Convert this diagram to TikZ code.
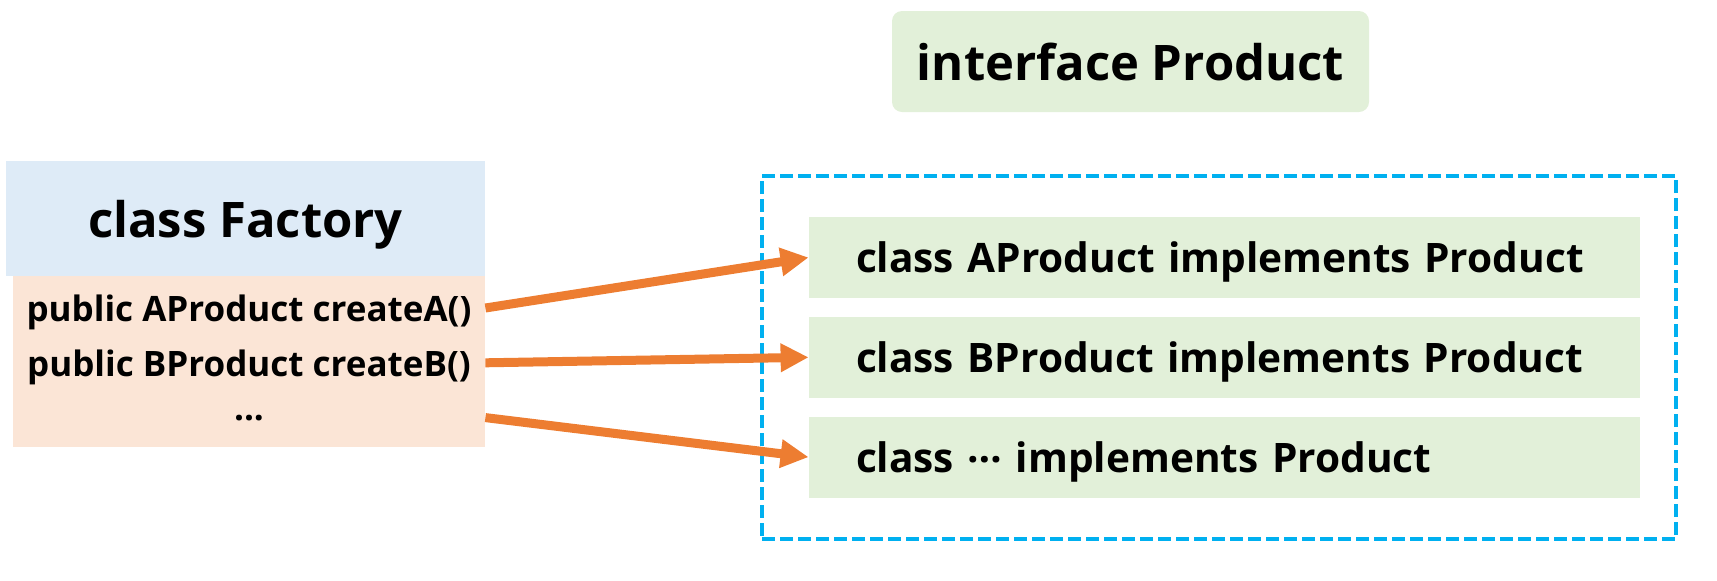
\documentclass[tikz,border=0pt]{standalone}
\usepackage{fontspec}
\setmainfont{Open Sans}
\usetikzlibrary{arrows.meta,positioning}
\definecolor{headblue}{RGB}{222,235,247}
\definecolor{bodypeach}{RGB}{251,229,214}
\definecolor{leafgreen}{RGB}{226,240,217}
\definecolor{linkorange}{RGB}{237,125,49}
\definecolor{frameblue}{RGB}{0,176,240}

\begin{document}
\begin{tikzpicture}[
  x=0.5pt,y=-0.5pt,
  head/.style={rectangle,fill=headblue,minimum width=239.5pt,minimum height=57.5pt,
               text depth=0pt,font=\fontsize{24.5}{29}\selectfont\bfseries},
  body/.style={rectangle,fill=bodypeach,minimum width=236pt,minimum height=85.5pt},
  method/.style={rectangle,inner sep=0pt,minimum width=236pt,minimum height=27pt,
                 text depth=0pt,font=\fontsize{17.5}{21}\selectfont\bfseries},
  iface/.style={rectangle,fill=leafgreen,rounded corners=5pt,minimum width=238.5pt,
                minimum height=50.5pt,font=\fontsize{24.5}{29}\selectfont\bfseries},
  impl/.style={rectangle,fill=leafgreen,inner xsep=23.5pt,inner ysep=0pt,text width=368.5pt,
               align=left,minimum height=40.5pt,text depth=0pt,
               font=\fontsize{20.3}{24}\selectfont\bfseries},
  frame/.style={rectangle,draw=frameblue,line width=2pt,dash pattern=on 6.5pt off 2.5pt,
                minimum width=457pt,minimum height=181.5pt},
  arrow/.style={-{Triangle[length=14pt,width=13.5pt]},draw=linkorange,line width=4.5pt}
]
\useasboundingbox (0,0) rectangle (1717,580);
\node[iface] (product) at (1130.5,61.5) {interface Product};
\node[frame] (group) at (1219,357.5) {};
\node[impl] (aprod) at (1224.5,257.5) {class AProduct implements Product};
\node[impl,below=9pt of aprod] (bprod) {class BProduct implements Product};
\node[impl,below=9pt of bprod] (xprod) {class \raisebox{.25em}{…} implements Product};
\node[head] (factory) at (245.5,218.5) {class Factory};
\node[body] (methods) at (249,361.5) {};
\node[method] (createa) at (249,308) {public AProduct createA()};
\node[method,below=0pt of createa] (createb) {public BProduct createB()};
\node[method,below=0pt of createb] (more) {...};
\draw[arrow] (createa.east) -- (aprod.west);
\draw[arrow] (createb.east) -- (bprod.west);
\draw[arrow] (more.east) -- (xprod.west);
\end{tikzpicture}
\end{document}
